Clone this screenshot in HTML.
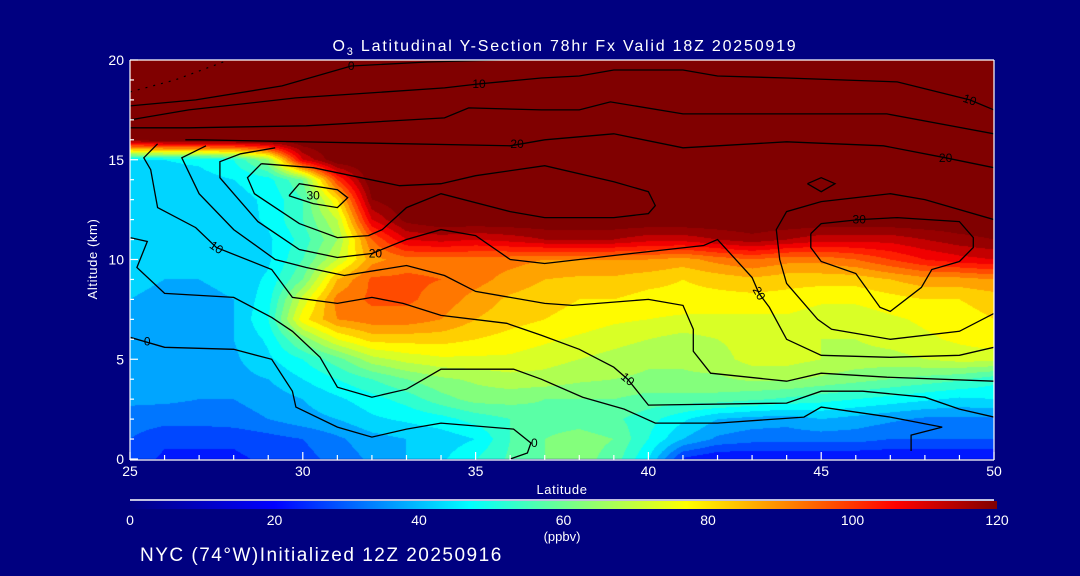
<!DOCTYPE html>
<html><head><meta charset="utf-8">
<style>
html,body{margin:0;padding:0;background:#000080;}
#wrap{position:relative;width:1080px;height:576px;background:#000080;overflow:hidden;font-family:"Liberation Sans",sans-serif;}
canvas{position:absolute;left:0;top:0;}
svg{position:absolute;left:0;top:0;}
</style></head>
<body>
<div id="wrap">
<canvas id="field" width="1080" height="576"></canvas>
<svg id="svg" width="1080" height="576" xmlns="http://www.w3.org/2000/svg">
<defs>
<linearGradient id="cbg" x1="0" x2="1" y1="0" y2="0">
<stop offset="0" stop-color="rgb(0,0,130)"/>
<stop offset="0.1667" stop-color="rgb(0,0,255)"/>
<stop offset="0.3917" stop-color="rgb(0,255,255)"/>
<stop offset="0.5167" stop-color="rgb(128,255,128)"/>
<stop offset="0.6417" stop-color="rgb(255,255,0)"/>
<stop offset="0.8833" stop-color="rgb(255,0,0)"/>
<stop offset="1" stop-color="rgb(128,0,0)"/>
</linearGradient>
<clipPath id="pclip"><rect x="130" y="60" width="864" height="399"/></clipPath>
</defs>
<text x="565" y="51" fill="#fff" font-size="16" letter-spacing="1.8" text-anchor="middle">O<tspan font-size="11" dy="4">3</tspan><tspan dy="-4"> Latitudinal Y-Section 78hr  Fx Valid 18Z 20250919</tspan></text>
<g id="contours" clip-path="url(#pclip)"></g>
<g id="labels"></g>
<g id="axes"></g>
<text x="562" y="494" fill="#fff" font-size="13" letter-spacing="0.6" text-anchor="middle">Latitude</text>
<text x="0" y="0" fill="#fff" font-size="13" letter-spacing="0.6" text-anchor="middle" transform="translate(97,259) rotate(-90)">Altitude (km)</text>
<line x1="130" y1="500" x2="994" y2="500" stroke="#fff" stroke-width="1.5"/>
<rect x="130" y="501" width="867" height="8" fill="url(#cbg)"/>
<g id="cbticks"></g>
<text x="562" y="541" fill="#fff" font-size="13" text-anchor="middle">(ppbv)</text>
<text x="140" y="561" fill="#fff" font-size="19" letter-spacing="1.5">NYC (74°W)Initialized 12Z 20250916</text>
</svg>
</div>
<script>
// ---- data ----
const lats = [25,26,27,28,29,30,31,32,33,34,35,36,37,38,39,40,41,42,43,44,45,46,47,48,49,50];
const alts = [0,1,2,3,4,5,6,7,8,9,10,11,12,13,14,15,16,17,18,19,20];
// ozone (ppbv), rows = altitude 0..20 km, columns = latitude 25..50
const o3 = [
[28,24,24,24,26,28,32,36,40,44,50,56,60,62,58,45,24,20,20,20,20,20,20,20,20,20],
[30,26,26,26,28,30,34,38,40,42,45,55,60,62,60,50,40,34,32,32,32,32,30,30,30,30],
[33,32,32,33,35,38,40,44,46,48,52,55,58,58,56,52,46,40,38,37,40,38,36,34,34,34],
[36,36,35,35,37,40,44,48,52,58,62,62,60,60,60,58,58,58,56,54,52,50,48,46,44,45],
[36,36,36,38,40,45,50,55,60,64,66,68,68,66,65,64,64,64,66,66,64,62,60,58,56,52],
[37,37,37,39,44,50,58,68,72,74,74,74,72,70,68,66,66,68,72,72,70,68,68,70,72,72],
[38,38,38,40,46,62,75,82,82,82,80,78,76,74,72,70,68,70,72,72,70,70,72,74,76,78],
[39,38,38,40,50,78,90,93,93,90,85,82,80,78,76,75,74,74,74,74,72,72,74,76,78,80],
[40,39,39,40,48,72,92,96,96,93,88,84,82,80,80,78,78,78,78,78,76,76,78,80,80,82],
[41,40,40,41,46,60,85,96,96,95,92,88,85,84,84,82,80,82,84,82,82,82,85,88,88,90],
[41,40,40,41,44,55,70,88,93,93,93,92,90,90,90,90,88,92,95,92,92,95,100,105,108,110],
[41,41,41,41,44,52,65,95,110,112,110,112,115,115,115,112,112,115,118,115,112,112,112,115,118,120],
[42,42,42,42,46,55,70,110,122,125,125,125,125,125,125,125,125,125,125,125,125,125,125,125,125,125],
[42,42,42,43,46,55,80,120,125,125,125,125,125,125,125,125,125,125,125,125,125,125,125,125,125,125],
[43,43,43,45,48,60,100,125,125,125,125,125,125,125,125,125,125,125,125,125,125,125,125,125,125,125],
[45,45,46,50,65,110,125,125,125,125,125,125,125,125,125,125,125,125,125,125,125,125,125,125,125,125],
[120,125,125,125,125,125,125,125,125,125,125,125,125,125,125,125,125,125,125,125,125,125,125,125,125,125],
[125,125,125,125,125,125,125,125,125,125,125,125,125,125,125,125,125,125,125,125,125,125,125,125,125,125],
[125,125,125,125,125,125,125,125,125,125,125,125,125,125,125,125,125,125,125,125,125,125,125,125,125,125],
[125,125,125,125,125,125,125,125,125,125,125,125,125,125,125,125,125,125,125,125,125,125,125,125,125,125],
[125,125,125,125,125,125,125,125,125,125,125,125,125,125,125,125,125,125,125,125,125,125,125,125,125,125]
];
// contour lines [lat, alt]
const lineNeg = [[25,18.4],[26.3,19],[27.7,19.9]];
const line0Top = [[25,17.7],[26.9,18],[29.4,18.7],[31.4,19.7],[33.6,19.9],[35.7,20]];
const line10Top = [[25,17],[26.7,17.5],[29.8,18.1],[34.1,18.6],[35.1,18.8],[36.9,19.1],[38,19.2],[39,19.5],[41,19.5],[42,19.2],[44,19.1],[47.2,18.9],[49.3,18],[50,17.5]];
const line15Top = [[25,16.6],[26.7,16.6],[30.1,16.7],[34.1,17.1],[34.8,17.6],[36.9,17.5],[38,17.5],[38.9,17.9],[41,17.3],[44,17.3],[46.9,17.3],[50,16.3]];
const line20Top = [[26.6,16],[27,16],[36,15.7],[37,16],[39,16.3],[41,15.6],[44,15.9],[46.8,15.7],[48.6,15.1],[50,14.6]];
const line30Left = [[29.6,13.2],[29.9,13.8],[31,13.5],[31.3,13.1],[31,12.6],[30.3,12.8],[29.6,13.2]];
const line25Left = [[28.8,14.8],[28.4,14.1],[28.6,13.3],[29.9,11.8],[31,11.1],[31.9,11.2],[32.3,11.5],[33,12.6],[34,13.3],[36,12.4],[37,12.1],[39,12.1],[40,12.3],[40.2,12.7],[40,13.4],[39,13.9],[37,14.7],[35,14.2],[34,13.8],[32.8,13.7],[30.3,14.6],[28.8,14.8]];
const line20Mid = [[29.2,15.6],[28.2,15.3],[27.6,14.9],[27.6,14.1],[28,13.3],[28.7,11.9],[29.9,10.5],[31,10.1],[32,10.3],[33,11],[34,11.5],[35,11.2],[36,10],[37,9.8],[39,10.2],[41.6,10.7],[42,11],[43,9.1],[43.2,8.3],[43.5,7.6],[44,6],[45,5.2],[47,5.1],[49,5.2],[50,5.6]];
const line15Mid = [[27.2,15.7],[26.5,15.1],[27,13.3],[28,11.5],[29.2,10],[30.1,9.6],[31.2,9.2],[33,9.7],[34.1,9.2],[35,8.4],[37,7.8],[37.8,7.7],[40,8],[41,7.7],[41.3,6.5],[41.3,5.4],[41.8,4.3],[44,3.9],[45,4.3],[46.9,4.1],[50,3.9]];
const line10 = [[25.8,15.8],[25.4,15.1],[25.6,14.5],[25.8,12.6],[26.9,11.6],[27.5,10.6],[29.1,9.5],[29.7,8.1],[31,7.8],[32,8.1],[32.9,7.8],[34,7.2],[35.9,6.8],[36.9,6.2],[38,5.5],[39,4.6],[39.4,4],[40,2.7],[44,2.8],[45,3.4],[46.2,3.4],[48,3.1],[49,2.5],[50,2.1]];
const line5 = [[25,11.1],[25.5,10.9],[25.2,9.6],[26,8.3],[28,8.1],[29.1,7.1],[29.7,6.4],[30.5,5.1],[31,3.6],[32,3.1],[33,3.5],[34,4.5],[36.1,4.5],[36.9,4],[38.1,3.1],[39.3,2.5],[40.2,1.8],[42,1.8],[44.5,2.1],[45,2.6],[47,2.1],[48.5,1.6],[47.6,1.2],[47.6,0.4]];
const line0Low = [[25,6.1],[26,5.6],[28,5.5],[29.1,5],[29.7,3.4],[29.8,2.6],[31,1.6],[32,1.1],[33,1.5],[34,1.8],[36.1,1.5],[36.6,0.8],[36.5,0.3],[36,0]];
const lineDiamond = [[44.6,13.8],[45,14.1],[45.4,13.8],[45,13.4],[44.6,13.8]];
const line30Right = [[44.7,11.3],[45,11.8],[46.1,12],[47.2,12.1],[49,11.9],[49.4,11.1],[49.4,10.6],[49,9.9],[48.2,9.5],[47.9,8.6],[47,7.4],[46.7,7.6],[46,9.3],[45,9.9],[44.7,10.6],[44.7,11.3]];
const line25Right = [[50,12],[48,13],[47,13.3],[45,12.9],[44,12.4],[43.7,11.5],[43.8,10],[44,8.8],[44.9,7],[45.3,6.5],[47,6],[49,6.4],[50,7.3]];
const contourLines = [line0Top,line10Top,line15Top,line20Top,line30Left,line25Left,line20Mid,line15Mid,line10,line5,line0Low,lineDiamond,line30Right,line25Right];
const labelText = ["0","10","10","20","20","30","30","20","20","10","10","0","0"];
const labelLat = [31.4,35.1,49.3,36.2,48.6,30.3,46.1,32.1,43.2,27.5,39.4,25.5,36.7];
const labelAlt = [19.7,18.8,18.0,15.8,15.1,13.2,12.0,10.3,8.3,10.6,4.0,5.9,0.8];
const labelRot = [0,0,20,0,0,0,0,0,60,35,40,0,0];
const xTicks = [25,30,35,40,45,50];
const yTicks = [0,5,10,15,20];
const cbTicks = [0,20,40,60,80,100,120];

// ---- scales ----
const X0=130, X1=994, Y0=459, Y1=60;
const xScale = lat => X0 + (lat-25)/(50-25)*(X1-X0);
const yScale = alt => Y0 - alt/20*(Y0-Y1);
const cmStops=[[0,[0,0,130]],[20,[0,0,255]],[47,[0,255,255]],[62,[128,255,128]],[77,[255,255,0]],[106,[255,0,0]],[120,[128,0,0]]];
function cmap(v){
  v=Math.max(0,Math.min(120,v));
  for(let i=1;i<cmStops.length;i++){
    if(v<=cmStops[i][0]){const a=cmStops[i-1],b=cmStops[i];const t=(v-a[0])/(b[0]-a[0]);
      return [0,1,2].map(k=>Math.round(a[1][k]+(b[1][k]-a[1][k])*t));}
  }
  return cmStops[cmStops.length-1][1];
}
// ---- field ----
(function(){
  const c=document.getElementById('field').getContext('2d');
  const w=X1-X0, h=Y0-Y1;
  const img=c.createImageData(w,h);
  for(let py=0;py<h;py++){
    const alt=(Y0-(Y1+py+0.5))/(Y0-Y1)*20;
    const fa=Math.max(0,Math.min(alts.length-1.0001,(alt-alts[0])/(alts[1]-alts[0])));
    const ia=Math.floor(fa), ta=fa-ia;
    for(let px=0;px<w;px++){
      const lat=25+(px+0.5)/w*25;
      const fl=Math.max(0,Math.min(lats.length-1.0001,(lat-lats[0])/(lats[1]-lats[0])));
      const il=Math.floor(fl), tl=fl-il;
      const v=(o3[ia][il]*(1-tl)+o3[ia][il+1]*tl)*(1-ta)+(o3[ia+1][il]*(1-tl)+o3[ia+1][il+1]*tl)*ta;
      const q=Math.min(120,Math.floor(v/5)*5+2.5);
      const col=v>=120?[128,0,0]:cmap(q);
      const o=(py*w+px)*4;
      img.data[o]=col[0];img.data[o+1]=col[1];img.data[o+2]=col[2];img.data[o+3]=255;
    }
  }
  c.putImageData(img,X0,Y1);
})();
// ---- contours ----
const NS='http://www.w3.org/2000/svg';
const cg=document.getElementById('contours');
contourLines.forEach(ln=>{
  const p=document.createElementNS(NS,'polyline');
  p.setAttribute('points',ln.map(d=>xScale(d[0]).toFixed(1)+','+yScale(d[1]).toFixed(1)).join(' '));
  p.setAttribute('fill','none');p.setAttribute('stroke','#000');p.setAttribute('stroke-width','1.3');
  
  
  cg.appendChild(p);
});
{
  const p=document.createElementNS(NS,'polyline');
  p.setAttribute('points',lineNeg.map(d=>xScale(d[0]).toFixed(1)+','+yScale(d[1]).toFixed(1)).join(' '));
  p.setAttribute('fill','none');p.setAttribute('stroke','#000');p.setAttribute('stroke-width','1.2');p.setAttribute('stroke-dasharray','2 6');
  
  
  cg.appendChild(p);
}
const lg=document.getElementById('labels');
labelText.forEach((t,i)=>{
  const e=document.createElementNS(NS,'text');
  const x=xScale(labelLat[i]), y=yScale(labelAlt[i]);
  e.setAttribute('x',x);e.setAttribute('y',y+4);e.setAttribute('font-size','12');e.setAttribute('text-anchor','middle');e.setAttribute('fill','#000');
  e.setAttribute('transform','rotate('+labelRot[i]+','+x+','+y+')');
  e.textContent=t;
  
  
  lg.appendChild(e);
});
// ---- axes ----
const ag=document.getElementById('axes');
function ln(x1,y1,x2,y2,name){
  const l=document.createElementNS(NS,'line');
  l.setAttribute('x1',x1);l.setAttribute('y1',y1);l.setAttribute('x2',x2);l.setAttribute('y2',y2);
  l.setAttribute('stroke','#fff');l.setAttribute('stroke-width','1.2');
  
  
  ag.appendChild(l);
}
ln(X0,Y1,X1,Y1,'plot-frame-top');ln(X1,Y1,X1,Y0+1,'plot-frame-right');ln(X0,Y0+1,X1,Y0+1,'x-axis-line');ln(X0,Y1,X0,Y0+1,'y-axis-line');
for(let lat=25;lat<=50;lat++){ln(xScale(lat),Y0+1,xScale(lat),Y0+1-(lat%5===0?8:5),'x-tick');}
for(let a=0;a<=20;a++){ln(X0,yScale(a),X0+(a%5===0?8:4),yScale(a),'y-tick');}
xTicks.forEach(v=>{
  const e=document.createElementNS(NS,'text');
  e.setAttribute('x',xScale(v));e.setAttribute('y',476);e.setAttribute('fill','#fff');e.setAttribute('font-size','14');e.setAttribute('text-anchor','middle');
  e.textContent=v;
  
  
  ag.appendChild(e);
});
yTicks.forEach(v=>{
  const e=document.createElementNS(NS,'text');
  e.setAttribute('x',124);e.setAttribute('y',yScale(v)+5);e.setAttribute('fill','#fff');e.setAttribute('font-size','14');e.setAttribute('text-anchor','end');
  e.textContent=v;
  
  
  ag.appendChild(e);
});
const cbg=document.getElementById('cbticks');
cbTicks.forEach(v=>{
  const e=document.createElementNS(NS,'text');
  e.setAttribute('x',130+v/120*867);e.setAttribute('y',525);e.setAttribute('fill','#fff');e.setAttribute('font-size','14');e.setAttribute('text-anchor','middle');
  e.textContent=v;
  
  
  cbg.appendChild(e);
});
</script>
</body></html>
